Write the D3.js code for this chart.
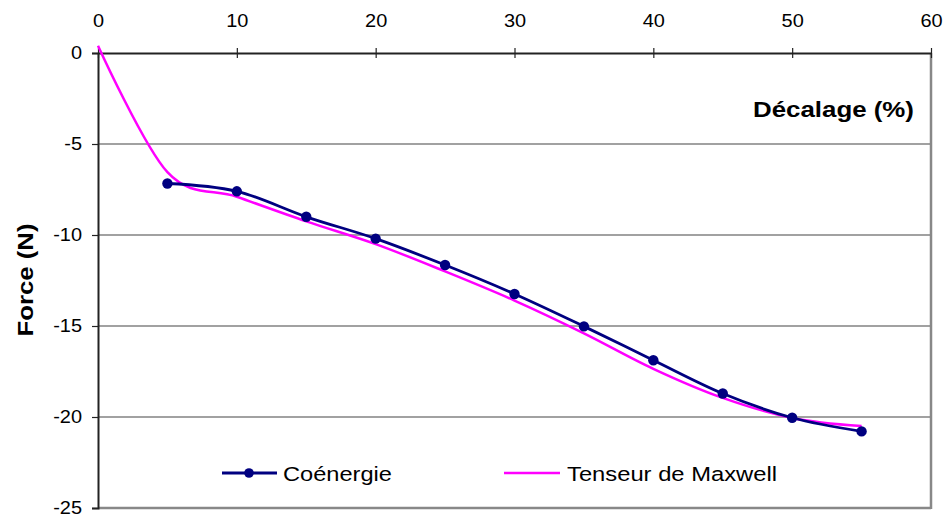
<!DOCTYPE html>
<html><head><meta charset="utf-8">
<script src="https://cdn.jsdelivr.net/npm/d3@7"></script>
<style>body{margin:0;background:#fff}text{font-family:"Liberation Sans",Arial,sans-serif}</style>
</head><body><svg id="c" width="945" height="517"></svg>
<script>
const xTicks = [0,10,20,30,40,50,60];
const yTicks = [0,-5,-10,-15,-20,-25];
const coenergieX = [5,10,15,20,25,30,35,40,45,50,55];
const coenergieY = [-7.17,-7.6,-9.0,-10.2,-11.65,-13.24,-15.02,-16.88,-18.71,-20.04,-20.79];
const maxwellX = [0,5,10,15,20,25,30,35,40,45,50,55];
const maxwellY = [0.4,-6.55,-7.9,-9.25,-10.5,-12.0,-13.6,-15.4,-17.35,-18.95,-20.05,-20.5];
const seriesNames = ["Coénergie","Tenseur de Maxwell"];
const xTitle = "Décalage (%)", yTitle = "Force (N)";

const svg = d3.select("#c");
const L=98,R=931,T=53,B=508;
const x = d3.scaleLinear().domain([0,60]).range([L,R]);
const y = d3.scaleLinear().domain([0,-25]).range([T,B]);
const fmt = d => String(d);

function stretch(sel, f){
  sel.each(function(){
    const n=this, w=n.getComputedTextLength();
    d3.select(n).attr("textLength", w*f).attr("lengthAdjust","spacingAndGlyphs");
  });
}

// gridlines
svg.append("g").selectAll("line").data(yTicks.filter(v=>v!==0&&v!==-25)).join("line")
  .attr("x1",L).attr("x2",R).attr("y1",d=>y(d)).attr("y2",d=>y(d))
  .attr("stroke","#444").attr("stroke-width",1.2);
// frame right & bottom
svg.append("line").attr("x1",R).attr("x2",R).attr("y1",T).attr("y2",B+1).attr("stroke","#888").attr("stroke-width",2.5);
svg.append("line").attr("x1",L).attr("x2",R).attr("y1",B).attr("y2",B).attr("stroke","#888").attr("stroke-width",2.5);

// y axis
const ya = svg.append("g").attr("transform",`translate(${L},0)`)
  .call(d3.axisLeft(y).tickValues(yTicks).tickSize(6).tickPadding(10).tickFormat(fmt));
ya.select(".domain").attr("stroke","#222").attr("stroke-width",2);
ya.selectAll(".tick line").attr("stroke","#222").attr("stroke-width",1.2);
ya.selectAll("text").attr("font-size",17.5).attr("fill","#000").attr("font-family","Liberation Sans, Arial");

// x axis on top
const xa = svg.append("g").attr("transform",`translate(0,${T})`)
  .call(d3.axisTop(x).tickValues(xTicks).tickSize(0).tickPadding(26).tickFormat(fmt));
xa.select(".domain").attr("stroke","#222").attr("stroke-width",2);
xa.selectAll("text").attr("font-size",17.5).attr("fill","#000").attr("font-family","Liberation Sans, Arial");
xa.selectAll(".tick").append("line").attr("y1",-5).attr("y2",5).attr("stroke","#222").attr("stroke-width",1.2);
stretch(ya.selectAll("text"),1.14);
stretch(xa.selectAll("text"),1.14);

// titles
const xt = svg.append("text").attr("x",914).attr("y",117).attr("text-anchor","end")
  .attr("font-size",21.5).attr("font-weight","bold").text(xTitle);
xt.attr("textLength",161).attr("lengthAdjust","spacingAndGlyphs");
const yt = svg.append("text").attr("transform","translate(33,280) rotate(-90)").attr("text-anchor","middle")
  .attr("font-size",22.5).attr("font-weight","bold").text(yTitle);
yt.attr("textLength",113).attr("lengthAdjust","spacingAndGlyphs");

const line = d3.line().x(d=>x(d[0])).y(d=>y(d[1])).curve(d3.curveCardinal.tension(0));
const mw = maxwellX.map((v,i)=>[v,maxwellY[i]]);
const co = coenergieX.map((v,i)=>[v,coenergieY[i]]);
svg.append("path").attr("d",line(mw)).attr("fill","none").attr("stroke","#ff00ff").attr("stroke-width",2.5);
svg.append("path").attr("d",line(co)).attr("fill","none").attr("stroke","#000080").attr("stroke-width",2.8);
svg.append("g").selectAll("circle").data(co).join("circle")
  .attr("cx",d=>x(d[0])).attr("cy",d=>y(d[1])).attr("r",5.2).attr("fill","#000080");

// legend
const lg = svg.append("g");
lg.append("line").attr("x1",222).attr("x2",277).attr("y1",473).attr("y2",473).attr("stroke","#000080").attr("stroke-width",2.8);
lg.append("circle").attr("cx",249).attr("cy",473).attr("r",4.8).attr("fill","#000080");
lg.append("text").attr("x",283).attr("y",480.5).attr("font-size",20.5).text(seriesNames[0])
  .attr("textLength",109).attr("lengthAdjust","spacingAndGlyphs");
lg.append("line").attr("x1",504).attr("x2",560).attr("y1",473).attr("y2",473).attr("stroke","#ff00ff").attr("stroke-width",2.5);
lg.append("text").attr("x",567).attr("y",480.5).attr("font-size",20.5).text(seriesNames[1])
  .attr("textLength",210).attr("lengthAdjust","spacingAndGlyphs");
</script></body></html>
